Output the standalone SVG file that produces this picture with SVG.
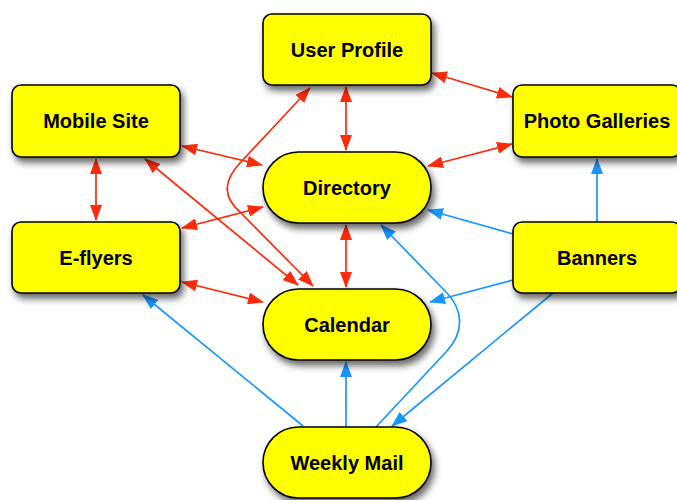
<svg xmlns="http://www.w3.org/2000/svg" width="677" height="500" viewBox="0 0 677 500">
<style>
.n{fill:#ffff00;stroke:#000;stroke-width:1.6;filter:url(#sh)}
.t{font-family:"Liberation Sans",Arial,Helvetica,sans-serif;font-weight:bold;font-size:20px;text-anchor:middle;fill:#000}
.r{fill:none;stroke:#ff2a0a;stroke-width:1.7;marker-start:url(#ra);marker-end:url(#ra)}
.b{fill:none;stroke:#1896ff;stroke-width:1.7;marker-end:url(#ba)}
</style>
<defs>
<filter id="sh" x="-20%" y="-20%" width="150%" height="160%">
<feDropShadow dx="3" dy="5" stdDeviation="3.5" flood-color="#000" flood-opacity="0.6"/>
</filter>
<marker id="ra" viewBox="0 0 16 12" refX="15" refY="6" markerWidth="16" markerHeight="12" markerUnits="userSpaceOnUse" orient="auto-start-reverse">
<path d="M0,0 L16,6 L0,12 z" fill="#ff2a0a"/>
</marker>
<marker id="ba" viewBox="0 0 16 12" refX="15" refY="6" markerWidth="16" markerHeight="12" markerUnits="userSpaceOnUse" orient="auto-start-reverse">
<path d="M0,0 L16,6 L0,12 z" fill="#1896ff"/>
</marker>
</defs>
<g id="connectors">
<line class="r" x1="432" y1="73" x2="512" y2="97"/>
<line class="r" x1="512" y1="144" x2="428" y2="166"/>
<line class="r" x1="346" y1="87" x2="346" y2="150"/>
<line class="r" x1="346" y1="225" x2="346" y2="287"/>
<line class="r" x1="182" y1="146" x2="262" y2="165"/>
<line class="r" x1="263" y1="207" x2="182" y2="228"/>
<line class="r" x1="96" y1="159" x2="96" y2="220"/>
<line class="r" x1="182" y1="282" x2="263" y2="302"/>
<line class="r" x1="145" y1="159" x2="298" y2="285"/>
<path class="r" d="M310,88 L240,163 C222,182 224,198 240,212 L313,286"/>
<line class="b" x1="597" y1="222" x2="597" y2="159"/>
<line class="b" x1="513" y1="234" x2="428" y2="210"/>
<line class="b" x1="513" y1="280" x2="430" y2="302"/>
<line class="b" x1="553" y1="293" x2="392" y2="426"/>
<path class="b" d="M376,427 L446,352 C465,332 463,310 447,293 L381,225"/>
<line class="b" x1="346" y1="427" x2="346" y2="362"/>
<line class="b" x1="303" y1="426" x2="143" y2="295"/>
</g>
<g id="user-profile"><rect class="n" x="263" y="14" width="168" height="71" rx="9"/><text class="t" x="347" y="57">User Profile</text></g>
<g id="mobile-site"><rect class="n" x="12" y="85" width="168" height="72" rx="9"/><text class="t" x="96" y="128">Mobile Site</text></g>
<g id="photo-galleries"><rect class="n" x="513" y="85" width="168" height="72" rx="9"/><text class="t" x="597" y="128">Photo Galleries</text></g>
<g id="directory"><rect class="n" x="263" y="152" width="168" height="71" rx="35.5"/><text class="t" x="347" y="195">Directory</text></g>
<g id="e-flyers"><rect class="n" x="12" y="222" width="168" height="71" rx="9"/><text class="t" x="96" y="265">E-flyers</text></g>
<g id="banners"><rect class="n" x="513" y="222" width="168" height="71" rx="9"/><text class="t" x="597" y="265">Banners</text></g>
<g id="calendar"><rect class="n" x="263" y="289" width="168" height="71" rx="35.5"/><text class="t" x="347" y="332">Calendar</text></g>
<g id="weekly-mail"><rect class="n" x="263" y="427" width="168" height="71" rx="35.5"/><text class="t" x="347" y="470">Weekly Mail</text></g>
</svg>
